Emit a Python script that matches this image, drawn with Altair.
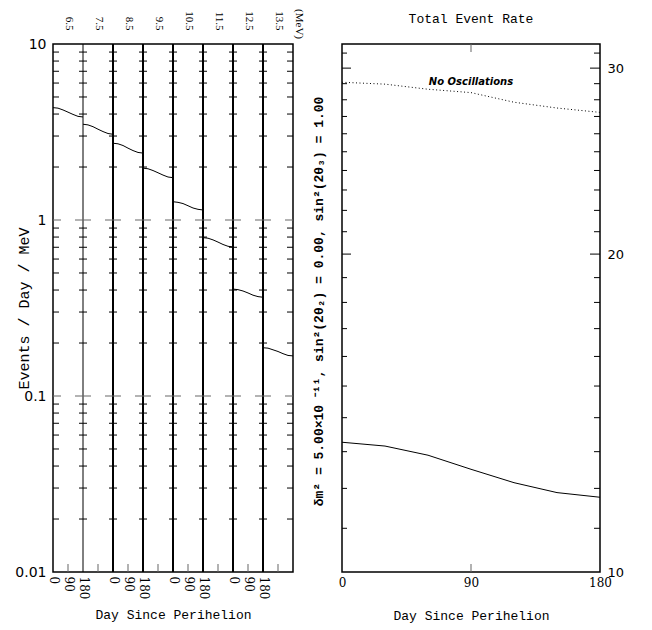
import altair as alt
import pandas as pd

# ---------------- data ----------------
energies = ["6.5", "7.5", "8.5", "9.5", "10.5", "11.5", "12.5", "13.5"]
days = [0, 30, 60, 90, 120, 150, 180]

rate_6_5 = [4.35, 4.32, 4.22, 4.10, 3.98, 3.88, 3.85]
rate_7_5 = [3.50, 3.47, 3.39, 3.28, 3.18, 3.10, 3.07]
rate_8_5 = [2.73, 2.71, 2.65, 2.56, 2.48, 2.42, 2.40]
rate_9_5 = [1.97, 1.955, 1.91, 1.855, 1.80, 1.755, 1.74]
rate_10_5 = [1.27, 1.26, 1.24, 1.205, 1.17, 1.15, 1.14]
rate_11_5 = [0.794, 0.788, 0.771, 0.749, 0.726, 0.709, 0.703]
rate_12_5 = [0.405, 0.402, 0.395, 0.385, 0.374, 0.367, 0.364]
rate_13_5 = [0.188, 0.187, 0.183, 0.179, 0.174, 0.170, 0.169]
spectrum_rates = [rate_6_5, rate_7_5, rate_8_5, rate_9_5,
                  rate_10_5, rate_11_5, rate_12_5, rate_13_5]

total_osc = [13.27, 13.16, 12.90, 12.51, 12.15, 11.89, 11.77]
total_noosc = [29.09, 28.97, 28.65, 28.44, 27.85, 27.50, 27.24]

left_label_vals = [0.01, 0.1, 1, 10]
left_minor = [0.02, 0.03, 0.04, 0.05, 0.06, 0.07, 0.08, 0.09,
              0.2, 0.3, 0.4, 0.5, 0.6, 0.7, 0.8, 0.9,
              2, 3, 4, 5, 6, 7, 8, 9]
left_major = [0.1, 1]
right_label_vals = [10, 20, 30]
right_minor = [11, 12, 13, 14, 15, 16, 17, 18, 19,
               21, 22, 23, 24, 25, 26, 27, 28, 29, 31]
right_major = [20, 30]
day_labels = [0, 90, 180]
boundary_bins = [1, 2, 3, 4, 5, 6, 7]
boundary_widths = [1, 2, 2, 2, 2, 2, 2]

param_text = "δm² = 5.00×10 ⁻¹¹, sin²(2θ₂) = 0.00, sin²(2θ₃) = 1.00"

# ---------------- tables ----------------
SPAN = 180
NBIN = len(energies)
spec_df = pd.DataFrame([
    {"bin": i, "day": d, "rate": r}
    for i, rates in enumerate(spectrum_rates)
    for d, r in zip(days, rates)
])
bound_df = pd.DataFrame({"bin": boundary_bins, "w": boundary_widths})
cross_minor_df = pd.DataFrame([{"bin": b, "v": v} for b in boundary_bins for v in left_minor])
cross_major_df = pd.DataFrame([{"bin": b, "v": v} for b in boundary_bins for v in left_major])
bins_df = pd.DataFrame({"bin": list(range(NBIN))})
lminor_df = pd.DataFrame({"v": left_minor})
lmajor_df = pd.DataFrame({"v": left_major})
total_df = pd.DataFrame({"day": days, "osc": total_osc, "noosc": total_noosc})
rminor_df = pd.DataFrame({"v": right_minor})
rmajor_df = pd.DataFrame({"v": right_major})

TFONT = "Liberation Mono"
SFONT = "DejaVu Serif"
NFONT = "DejaVu Sans"

# ---------------- left: spectrum panels ----------------
lx = alt.Scale(domain=[0, NBIN * SPAN], nice=False, zero=False)
ly = alt.Scale(type="log", domain=[0.01, 10], nice=False)

bottom_vals = [b * SPAN + d for b in range(0, NBIN, 2) for d in day_labels]
top_vals = [b * SPAN + SPAN // 2 for b in range(NBIN)]
energy_expr = "[" + ",".join("'%s'" % e for e in energies) + "][floor(datum.value/180)]"

bottom_axis = alt.Axis(values=bottom_vals, labelExpr="datum.value % 360", ticks=False,
                       domain=False, grid=False, labelAngle=90, labelAlign="left",
                       labelBaseline="middle", labelFont=SFONT, labelFontSize=12,
                       labelPadding=4, labelColor="black", title="Day Since Perihelion",
                       titleFont=TFONT, titleFontSize=13, titleFontWeight="normal",
                       titlePadding=10, titleColor="black")
top_axis = alt.Axis(orient="top", values=top_vals, labelExpr=energy_expr, ticks=False,
                    domain=False, grid=False, labelAngle=90, labelAlign="right",
                    labelBaseline="middle", labelFont="Liberation Serif", labelFontSize=11,
                    labelPadding=14, labelColor="black", title=None)
left_axis = alt.Axis(values=left_label_vals, format="~g", ticks=False, domain=False,
                     grid=False, labelFont=NFONT, labelFontSize=14, labelPadding=7,
                     labelColor="black", title="Events / Day / MeV", titleFont=TFONT,
                     titleFontSize=15, titleFontWeight="normal", titleX=-30,
                     titleBaseline="middle", titleColor="black")

spec_lines = alt.Chart(spec_df).transform_calculate(
    pos="datum.bin*180+datum.day"
).mark_line(color="black", strokeWidth=1).encode(
    x=alt.X("pos:Q", scale=lx, axis=bottom_axis),
    y=alt.Y("rate:Q", scale=ly, axis=left_axis),
    detail="bin:N",
)

bounds = alt.Chart(bound_df).transform_calculate(pos="datum.bin*180").mark_rule(
    color="black"
).encode(
    x=alt.X("pos:Q", scale=lx, axis=top_axis),
    strokeWidth=alt.StrokeWidth("w:Q", scale=None),
)

cross_minor = alt.Chart(cross_minor_df).transform_calculate(pos="datum.bin*180").mark_tick(
    orient="horizontal", size=8, thickness=1, color="black", opacity=1
).encode(x=alt.X("pos:Q", scale=lx, axis=None), y=alt.Y("v:Q", scale=ly, axis=None))

cross_major = alt.Chart(cross_major_df).transform_calculate(pos="datum.bin*180").mark_tick(
    orient="horizontal", size=16, thickness=1, color="#666666", opacity=1
).encode(x=alt.X("pos:Q", scale=lx, axis=None), y=alt.Y("v:Q", scale=ly, axis=None))

edge_l_minor = alt.Chart(lminor_df).mark_tick(
    orient="horizontal", size=6, thickness=1, color="black", opacity=1, xOffset=3
).encode(x=alt.XDatum(0, type="quantitative", axis=None), y=alt.Y("v:Q", scale=ly, axis=None))
edge_l_major = alt.Chart(lmajor_df).mark_tick(
    orient="horizontal", size=8, thickness=1, color="#666666", opacity=1, xOffset=4
).encode(x=alt.XDatum(0, type="quantitative", axis=None), y=alt.Y("v:Q", scale=ly, axis=None))
edge_r_minor = alt.Chart(lminor_df).mark_tick(
    orient="horizontal", size=6, thickness=1, color="black", opacity=1, xOffset=-3
).encode(x=alt.XDatum(NBIN * SPAN, type="quantitative", axis=None), y=alt.Y("v:Q", scale=ly, axis=None))
edge_r_major = alt.Chart(lmajor_df).mark_tick(
    orient="horizontal", size=8, thickness=1, color="#666666", opacity=1, xOffset=-4
).encode(x=alt.XDatum(NBIN * SPAN, type="quantitative", axis=None), y=alt.Y("v:Q", scale=ly, axis=None))

mid_ticks = alt.Chart(bins_df).transform_calculate(pos="datum.bin*180+90").mark_tick(
    orient="vertical", size=8, thickness=1, color="#666666", opacity=1, yOffset=-4
).encode(x=alt.X("pos:Q", scale=lx, axis=None), y=alt.YDatum(0.01, type="quantitative", axis=None))

mev = alt.Chart(pd.DataFrame({"t": ["(MeV)"]})).mark_text(
    angle=90, align="right", baseline="middle", xOffset=6, font="Liberation Serif",
    fontSize=11, color="black"
).encode(x=alt.XDatum(NBIN * SPAN, type="quantitative", axis=None), y=alt.value(-5), text="t:N")

left = alt.layer(
    spec_lines, bounds, cross_minor, cross_major, edge_l_minor, edge_l_major, edge_r_minor,
    edge_r_major, mid_ticks, mev
).resolve_axis(x="independent", y="independent").properties(width=240, height=528)

# ---------------- right: total event rate ----------------
rx = alt.Scale(domain=[0, 180], nice=False, zero=False)
ry = alt.Scale(type="log", domain=[10, 31.62], nice=False)

rx_axis = alt.Axis(values=day_labels, format="d", ticks=False, domain=False, grid=False,
                   labelFont=SFONT, labelFontSize=12, labelPadding=5, labelColor="black",
                   labelFlush=False, title="Day Since Perihelion", titleFont=TFONT,
                   titleFontSize=13, titleFontWeight="normal", titlePadding=21,
                   titleColor="black")
ry_left = alt.Axis(orient="left", labels=False, ticks=False, domain=False, grid=False,
                   title=param_text, titleFont=TFONT, titleFontSize=13,
                   titleFontWeight="bold", titleX=-24, titleY=257, titleBaseline="middle",
                   titleColor="black")
ry_right = alt.Axis(orient="right", values=right_label_vals, format="d", ticks=False,
                    domain=False, grid=False, labelFont=NFONT, labelFontSize=13,
                    labelPadding=7, labelColor="black", labelFlush=False, title=None)

osc_line = alt.Chart(total_df).mark_line(color="black", strokeWidth=1).encode(
    x=alt.X("day:Q", scale=rx, axis=rx_axis),
    y=alt.Y("osc:Q", scale=ry, axis=ry_left),
)
noosc_line = alt.Chart(total_df).mark_line(color="black", strokeWidth=1, strokeDash=[1, 2.5]).encode(
    x=alt.X("day:Q", scale=rx, axis=None),
    y=alt.Y("noosc:Q", scale=ry, axis=ry_right),
)
noosc_label = alt.Chart(total_df).transform_filter("datum.day == 90").mark_text(
    text="No Oscillations", fontStyle="italic", fontWeight="bold", font=NFONT,
    fontSize=10, dy=-11, color="black"
).encode(x=alt.X("day:Q", scale=rx, axis=None), y=alt.Y("noosc:Q", scale=ry, axis=None))

r_l_minor = alt.Chart(rminor_df).mark_tick(
    orient="horizontal", size=5, thickness=1, color="black", opacity=1, xOffset=2.5
).encode(x=alt.XDatum(0, type="quantitative", axis=None), y=alt.Y("v:Q", scale=ry, axis=None))
r_l_major = alt.Chart(rmajor_df).mark_tick(
    orient="horizontal", size=9, thickness=1, color="black", opacity=1, xOffset=4.5
).encode(x=alt.XDatum(0, type="quantitative", axis=None), y=alt.Y("v:Q", scale=ry, axis=None))
r_r_minor = alt.Chart(rminor_df).mark_tick(
    orient="horizontal", size=6, thickness=1, color="black", opacity=1, xOffset=-3
).encode(x=alt.XDatum(180, type="quantitative", axis=None), y=alt.Y("v:Q", scale=ry, axis=None))
r_r_major = alt.Chart(rmajor_df).mark_tick(
    orient="horizontal", size=10, thickness=1, color="black", opacity=1, xOffset=-5
).encode(x=alt.XDatum(180, type="quantitative", axis=None), y=alt.Y("v:Q", scale=ry, axis=None))
r_top = alt.Chart(pd.DataFrame({"d": [90]})).mark_tick(
    orient="vertical", size=8, thickness=1, color="#666666", opacity=1, yOffset=4
).encode(x=alt.X("d:Q", scale=rx, axis=None), y=alt.YDatum(31.62, type="quantitative", axis=None))
r_bot = alt.Chart(pd.DataFrame({"d": [90]})).mark_tick(
    orient="vertical", size=8, thickness=1, color="#666666", opacity=1, yOffset=-4
).encode(x=alt.X("d:Q", scale=rx, axis=None), y=alt.YDatum(10, type="quantitative", axis=None))

right = alt.layer(
    osc_line, noosc_line, noosc_label, r_l_minor, r_l_major, r_r_minor, r_r_major,
    r_top, r_bot
).resolve_axis(x="independent", y="independent").properties(
    width=258, height=528,
    title=alt.Title("Total Event Rate", font=TFONT, fontSize=13, fontWeight="normal",
                    offset=18, color="black"),
)

chart = alt.hconcat(left, right, spacing=5).properties(
    padding={"left": 6, "top": 0, "right": 5, "bottom": 0}
).configure_view(stroke="black", strokeWidth=1.5)

chart.save("out.html", embed_options={"renderer": "svg", "actions": False})
